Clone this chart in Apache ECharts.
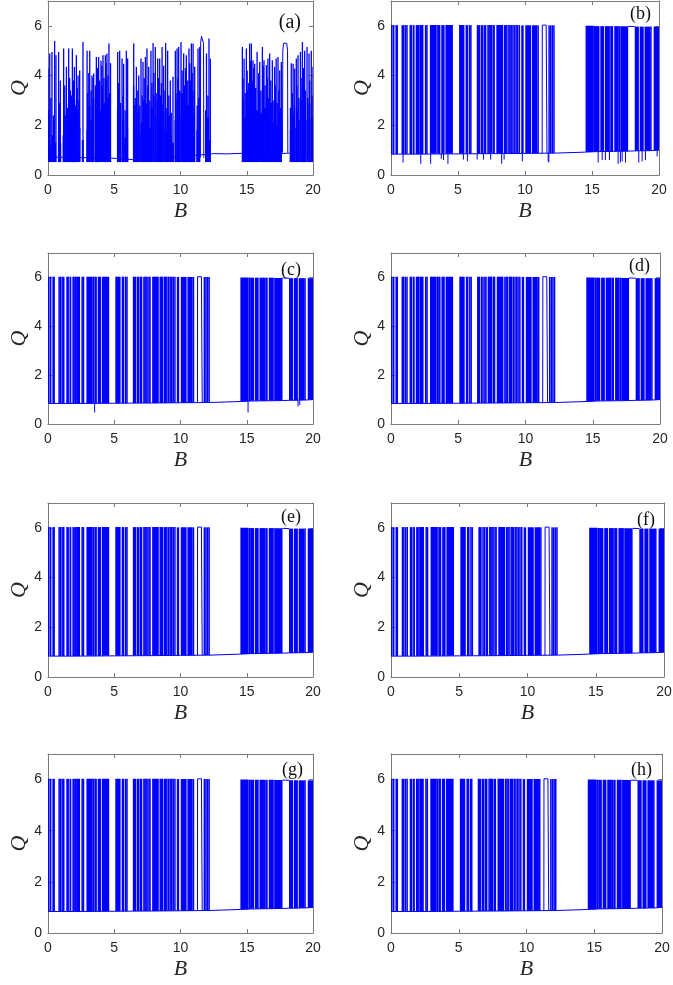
<!DOCTYPE html>
<html><head><meta charset="utf-8">
<script src="https://cdn.jsdelivr.net/npm/echarts@6/dist/echarts.min.js"></script>
<style>html,body{margin:0;padding:0;background:#fff}#c{width:673px;height:985px}</style>
</head><body><div id="c"></div>
<script>
// ---------- tick labels ----------
const xTickValues = [0, 5, 10, 15, 20];
const yTickValues = [0, 2, 4, 6];
const panelLabels = ['(a)', '(b)', '(c)', '(d)', '(e)', '(f)', '(g)', '(h)'];

// ---------- panel (a) ----------
const floorA = 0.52;
// individual excursions [B, peak Q]
const spikesA = [
  [0.00,4.28],[0.13,4.89],[0.30,4.95],[0.50,5.39],[0.60,4.82],[0.80,4.95],[0.93,3.80],[1.18,5.09],[1.39,4.35],
  [1.56,5.09],[1.69,3.40],[1.84,5.09],[1.99,4.35],[2.14,4.82],[2.27,4.00],[2.39,4.20],[2.64,5.35],[2.95,5.00],
  [3.15,5.00],[3.32,4.00],[3.45,4.08],[3.65,4.75],[3.82,4.75],[4.00,4.60],[4.15,4.82],[4.33,4.82],[4.45,4.89],
  [4.60,5.29],[4.72,4.50],[5.26,4.95],[5.41,5.00],[5.59,4.69],[5.71,4.48],[5.91,5.00],[6.01,4.69],[6.47,5.29],
  [6.67,4.35],[6.85,4.00],[7.02,4.69],[7.17,4.55],[7.35,4.75],[7.47,5.09],[7.60,4.35],[7.77,5.00],[7.93,5.31],
  [8.10,5.15],[8.28,4.69],[8.43,4.69],[8.61,5.15],[8.73,4.40],[8.88,5.31],[9.03,5.00],[9.23,3.80],[9.43,3.95],
  [9.61,5.00],[9.74,5.09],[9.86,5.15],[10.04,5.35],[10.24,4.89],[10.44,4.82],[10.64,5.09],[10.82,5.29],
  [10.95,5.29],[11.07,4.35],[11.32,5.09],[11.45,5.15],[11.96,4.89],[12.15,5.49],[12.25,4.69],
  [14.67,5.15],[14.80,4.69],[14.97,5.09],[15.22,5.29],[15.35,5.29],[15.47,4.62],[15.60,4.48],[15.78,4.95],
  [15.98,4.55],[16.18,5.15],[16.30,4.62],[16.48,4.42],[16.60,4.69],[16.73,4.89],[16.93,4.62],[17.10,4.35],
  [17.22,4.69],[17.36,4.75],[17.49,4.20],[17.61,4.55],[18.36,4.50],[18.50,4.48],[18.62,4.28],[18.74,4.69],
  [18.87,4.82],[19.05,4.95],[19.20,5.35],[19.37,5.00],[19.55,5.15],[19.70,4.89],[19.87,5.00],[20.00,4.35]
];
// mid-height excursions [B, peak Q]
const midSpikesA = [
  [0.07,2.6],[0.22,3.1],[0.42,2.4],[0.88,2.9],[1.27,3.6],[1.46,2.7],[1.63,3.9],[1.78,3.2],[1.92,3.8],[2.07,2.8],
  [2.20,3.5],[2.34,3.0],[2.99,3.3],[3.08,4.1],[3.25,3.4],[3.40,3.9],[3.58,3.6],[3.74,4.3],[3.90,3.8],[4.07,4.4],
  [4.22,3.9],[4.38,4.5],[4.53,4.0],[4.66,3.3],[5.31,3.7],[5.48,2.9],[5.66,3.2],[5.82,2.6],[6.46,3.6],[6.58,3.1],
  [6.78,3.4],[6.93,2.8],[7.10,3.2],[7.26,3.9],[7.41,2.9],[7.53,3.6],[7.69,3.0],[7.84,3.7],[7.99,4.1],[8.16,3.3],
  [8.33,3.9],[8.48,3.2],[8.56,3.7],[8.69,2.9],[8.83,3.4],[8.97,2.7],[9.12,3.2],[9.30,2.5],[9.66,3.3],[9.80,3.9],
  [9.93,3.4],[10.12,4.2],[10.30,3.6],[10.38,4.3],[10.55,3.8],[10.70,4.5],[10.88,4.1],[11.02,3.4],[11.26,2.8],
  [11.38,3.1],[11.90,2.6],[12.07,3.2],[14.72,3.9],[14.88,3.3],[15.03,4.2],[15.15,3.7],[15.30,4.6],[15.42,3.8],
  [15.53,4.3],[15.68,3.5],[15.90,4.1],[16.07,3.4],[16.24,4.4],[16.38,3.6],[16.54,3.9],[16.66,3.1],[16.82,3.8],
  [16.99,3.0],[17.15,3.6],[17.29,2.9],[17.42,3.4],[17.56,2.7],[18.30,2.7],[18.44,3.3],[18.58,2.8],[18.79,3.6],
  [18.93,3.1],[19.10,3.9],[19.27,4.3],[19.42,3.4],[19.60,3.1],[19.75,3.8],[19.93,3.2]
];
// densely filled stretches [B start, B end, top of the solid fill]
const bandsA = [
  [0.00,0.10,1.9],[0.10,0.25,1.2],[0.25,0.40,1.6],[0.40,0.62,1.3],[0.75,0.85,1.8],[0.85,1.00,1.3],
  [1.10,1.20,1.6],[1.20,1.35,2.4],[1.35,1.50,1.5],[1.50,1.60,2.9],[1.60,1.70,1.8],[1.75,1.90,2.2],
  [1.90,2.05,3.0],[2.05,2.20,1.7],[2.20,2.30,2.6],[2.30,2.45,1.9],[2.55,2.70,1.4],[2.90,3.05,1.8],
  [3.05,3.20,2.8],[3.20,3.35,2.2],[3.35,3.50,3.1],[3.55,3.70,2.4],[3.70,3.85,3.3],[3.85,4.00,2.6],
  [4.00,4.15,3.6],[4.15,4.30,2.9],[4.30,4.45,3.8],[4.45,4.60,3.1],[4.60,4.70,2.2],[5.20,5.35,2.6],
  [5.35,5.50,1.8],[5.60,5.75,2.2],[5.75,5.90,1.5],[5.90,6.05,1.9],[6.45,6.60,2.8],[6.60,6.75,1.9],
  [6.75,6.90,2.5],[6.90,7.00,1.7],[7.00,7.15,2.1],[7.15,7.30,3.0],[7.30,7.45,1.8],[7.45,7.60,2.6],
  [7.60,7.75,1.9],[7.75,7.90,2.7],[7.90,8.05,3.2],[8.05,8.20,2.3],[8.20,8.35,3.0],[8.35,8.50,2.1],
  [8.50,8.65,2.8],[8.65,8.80,1.9],[8.80,8.90,2.5],[8.90,9.05,1.8],[9.05,9.20,2.4],[9.20,9.35,1.6],
  [9.35,9.50,1.3],[9.55,9.70,2.2],[9.70,9.85,3.0],[9.85,10.00,2.4],[10.00,10.20,3.3],[10.20,10.35,2.6],
  [10.35,10.50,3.5],[10.50,10.65,2.8],[10.65,10.80,3.8],[10.80,10.95,3.2],[10.95,11.10,2.4],
  [11.20,11.30,1.8],[11.30,11.45,2.2],[11.85,12.00,1.6],[12.00,12.15,2.3],[12.15,12.25,1.4],
  [14.65,14.80,3.0],[14.80,14.95,2.3],[14.95,15.10,3.4],[15.10,15.25,2.8],[15.25,15.40,3.9],[15.40,15.55,2.9],
  [15.55,15.70,3.5],[15.70,15.85,2.6],[15.85,16.00,3.3],[16.00,16.15,2.5],[16.15,16.30,3.6],[16.30,16.45,2.7],
  [16.45,16.60,3.0],[16.60,16.75,2.2],[16.75,16.90,2.9],[16.90,17.05,2.1],[17.05,17.20,2.7],[17.20,17.35,2.0],
  [17.35,17.50,2.5],[17.50,17.65,1.8],[18.25,18.40,1.8],[18.40,18.55,2.4],[18.55,18.70,1.9],[18.70,18.85,2.7],
  [18.85,19.00,2.2],[19.00,19.15,3.0],[19.15,19.30,3.4],[19.30,19.45,2.5],[19.50,19.65,2.2],[19.65,19.80,2.9],
  [19.80,20.00,2.3]
];
const baseA = [[0,0.72],[2.5,0.70],[4.8,0.68],[5.2,0.66],[6.4,0.62],[8,0.68],[10,0.74],[12.2,0.84],[12.5,0.86],
  [13.5,0.85],[14.6,0.87],[16,0.82],[18.2,0.88],[19.5,0.88],[20,0.88]];
const archA1 = [[11.50,0.70],[11.52,5.30],[11.58,5.58],[11.63,5.62],[11.69,5.58],[11.74,5.30],[11.76,0.70]];
const archA2 = [[17.70,0.90],[17.72,5.00],[17.78,5.30],[17.90,5.37],[18.02,5.30],[18.08,5.00],[18.10,0.90]];

// ---------- panels (b)-(h): same switching windows ----------
// windows of fast switching between the low and high branch [B start, B end, low Q, high Q]
const gatesBH = [
  [0.00,0.12,0.84,6.03],[0.33,0.52,0.84,6.03],[1.38,1.58,0.84,6.03],[1.62,1.76,0.84,6.03],[1.84,2.02,0.84,6.03],
  [2.12,2.42,0.84,6.03],[2.90,3.38,0.85,6.03],[3.75,4.00,0.85,6.03],[4.06,4.62,0.85,6.03],[5.08,5.48,0.85,6.03],
  [6.40,6.64,0.86,6.03],[7.86,8.36,0.86,6.03],[9.72,9.90,0.87,6.02],[10.02,10.46,0.87,6.02],[10.52,10.92,0.87,6.02],
  [14.52,15.14,0.93,6.00],[15.30,15.56,0.95,5.99],[15.62,15.90,0.95,5.99],[15.96,16.30,0.95,5.99],
  [16.40,16.58,0.95,5.99],[16.66,17.00,0.96,5.99],[17.12,17.70,0.96,5.98],[18.19,18.50,0.97,5.97],
  [18.56,18.86,0.97,5.97],[18.92,19.36,0.98,5.97],[19.60,20.00,0.99,5.97]
];
// isolated jumps [B, low Q, high Q]
const jumpsBH = [
  [0.20,0.84,6.03],[0.84,0.84,6.03],[0.94,0.84,6.03],[1.07,0.84,6.03],[1.19,0.84,6.03],[2.06,0.84,6.03],
  [2.58,0.84,6.03],[2.68,0.84,6.03],[3.44,0.85,6.03],[3.56,0.85,6.03],[3.63,0.85,6.03],[5.62,0.85,6.03],
  [5.70,0.85,6.03],[5.86,0.85,6.03],[5.96,0.85,6.03],[6.74,0.86,6.03],[6.84,0.86,6.03],[6.98,0.86,6.03],
  [7.06,0.86,6.03],[7.24,0.86,6.03],[7.32,0.86,6.03],[7.40,0.86,6.03],[7.48,0.86,6.03],[7.62,0.86,6.03],
  [7.70,0.86,6.03],[8.47,0.86,6.03],[8.56,0.86,6.03],[8.65,0.86,6.03],[8.80,0.86,6.03],[8.88,0.86,6.03],
  [8.97,0.86,6.03],[9.10,0.87,6.03],[9.22,0.87,6.03],[9.34,0.87,6.03],[9.45,0.87,6.03],[9.58,0.87,6.03],
  [10.98,0.87,6.02],[11.80,0.88,6.02],[11.92,0.88,6.02],[12.04,0.88,6.02],[12.16,0.88,6.02],
  [15.20,0.94,5.99],[15.25,0.94,5.99],[16.34,0.95,5.99],[17.06,0.96,5.99],[19.40,0.98,5.97]
];
const loopBH = [[11.28,0.87],[11.29,6.03],[11.58,6.03],[11.64,0.88]];
const topArcBH = [[17.70,5.98],[18.19,5.97]];
const baseBH = [[0,0.84],[2,0.84],[5,0.85],[8,0.86],[10,0.87],[12.2,0.88],[14.5,0.92],[15.3,0.94],
  [17.7,0.96],[18.2,0.97],[19.4,0.98],[20,1.00]];
// downward dips [B, low Q, high Q]
const dipsB = [
  [0.90,0.50,0.84],[2.22,0.45,0.84],[2.96,0.45,0.85],[3.75,0.65,0.85],[3.92,0.60,0.85],[4.25,0.45,0.85],
  [5.40,0.62,0.85],[5.70,0.55,0.85],[6.43,0.62,0.86],[6.90,0.62,0.86],[7.44,0.62,0.86],[8.26,0.45,0.86],
  [8.44,0.62,0.86],[9.80,0.55,0.87],[11.73,0.55,0.88],[11.78,0.50,0.88],[15.46,0.50,0.94],[15.76,0.60,0.95],
  [16.00,0.60,0.95],[16.30,0.60,0.95],[16.95,0.45,0.96],[17.12,0.50,0.96],[17.25,0.55,0.96],[17.50,0.50,0.96],
  [18.49,0.50,0.97],[18.74,0.55,0.97],[18.99,0.60,0.98],[19.86,0.75,1.00]
];
const dipsC = [[3.52,0.47,0.85],[15.10,0.47,0.93],[18.87,0.72,0.97],[19.00,0.78,0.97]];

// ---------- layout ----------
const BLUE = '#0000ff';
const GRAY = '#7a7a7a';
const grids = [
  {left:48, top:1,   width:265, height:174},
  {left:391,top:1,   width:268, height:174},
  {left:48, top:253, width:265, height:171},
  {left:391,top:253, width:269, height:171},
  {left:48, top:503, width:265, height:174},
  {left:391,top:503, width:273, height:174},
  {left:48, top:754, width:265, height:179},
  {left:391,top:754, width:271, height:179}
];
const labelInset = [[12,12,20],[8,4,18],[12,8,18],[10,4,18],[12,5,18],[9,8,18],[10,7,18],[10,7,18]];

function renderBand(params, api) {
  const p1 = api.coord([api.value(0), api.value(3)]);
  const p2 = api.coord([api.value(1), api.value(2)]);
  let x = p1[0], w = p2[0] - p1[0];
  if (w < 1) { x = (p1[0] + p2[0]) / 2 - 0.5; w = 1; }
  return {type:'rect', shape:{x:x, y:p1[1], width:w, height:p2[1]-p1[1]}, style:{fill:BLUE}};
}
function makeJumpRenderer(width) {
  return function (params, api) {
    const p1 = api.coord([api.value(0), api.value(1)]);
    const p2 = api.coord([api.value(0), api.value(2)]);
    return {type:'line', shape:{x1:p1[0], y1:p1[1], x2:p2[0], y2:p2[1]}, style:{stroke:BLUE, lineWidth:width}};
  };
}

const xAxes = [], yAxes = [], series = [], graphics = [];
const tickFont = {fontFamily:'Liberation Sans, Arial', fontSize:14, color:'#262626'};
const nameFont = {fontFamily:'Liberation Serif, Times New Roman', fontStyle:'italic', fontSize:22, color:'#262626'};
const tickStyle = (vals) => ({show:true, inside:true, length:4, lineStyle:{color:GRAY}, customValues:vals});

grids.forEach((g, i) => {
  const common = {type:'value', gridIndex:i, splitLine:{show:false},
    axisLine:{show:true, onZero:false, lineStyle:{color:GRAY, width:1}}};
  xAxes.push(Object.assign({}, common, {position:'bottom', min:0, max:20, interval:5,
    axisTick:tickStyle(xTickValues),
    axisLabel:Object.assign({margin:8, customValues:xTickValues}, tickFont),
    name:'B', nameLocation:'middle', nameGap:25, nameTextStyle:nameFont}));
  xAxes.push(Object.assign({}, common, {position:'top', min:0, max:20, interval:5,
    axisTick:tickStyle(xTickValues), axisLabel:{show:false}}));
  yAxes.push(Object.assign({}, common, {position:'left', min:0, max:7, interval:1,
    axisTick:tickStyle(yTickValues),
    axisLabel:Object.assign({margin:6, customValues:yTickValues}, tickFont),
    name:'Q', nameLocation:'middle', nameGap:18, nameTextStyle:nameFont}));
  yAxes.push(Object.assign({}, common, {position:'right', min:0, max:7, interval:1,
    axisTick:tickStyle(yTickValues), axisLabel:{show:false}}));
  const xi = 2*i, yi = 2*i;
  const lineS = (data) => ({type:'line', xAxisIndex:xi, yAxisIndex:yi, data:data, showSymbol:false,
    symbol:'none', lineStyle:{color:BLUE, width:1}, animation:false, silent:true, z:3});
  const bandS = (data) => ({type:'custom', xAxisIndex:xi, yAxisIndex:yi, renderItem:renderBand,
    data:data, encode:{x:[0,1], y:[2,3]}, animation:false, silent:true, clip:true, z:2});
  const jumpS = (data, w) => ({type:'custom', xAxisIndex:xi, yAxisIndex:yi, renderItem:makeJumpRenderer(w),
    data:data, encode:{x:0, y:[1,2]}, animation:false, silent:true, clip:true, z:2});
  if (i === 0) {
    series.push(lineS(baseA));
    series.push(bandS(bandsA.map(b => [b[0], b[1], floorA, b[2]])));
    series.push(jumpS(midSpikesA.map(s => [s[0], floorA, s[1]]), 1.4));
    series.push(jumpS(spikesA.map(s => [s[0], floorA, s[1]]), 1.3));
    series.push(lineS(archA1));
    series.push(lineS(archA2));
  } else {
    series.push(lineS(baseBH));
    series.push(bandS(gatesBH));
    series.push(jumpS(jumpsBH, 1.5));
    series.push(lineS(loopBH));
    series.push(lineS(topArcBH));
    if (i === 1) series.push(jumpS(dipsB, 1));
    if (i === 2) series.push(jumpS(dipsC, 1));
  }
  const li = labelInset[i];
  graphics.push({type:'text', x:g.left + g.width - li[0], y:g.top + li[1],
    style:{text:panelLabels[i], fill:'#111', font:li[2] + 'px "Liberation Serif", "Times New Roman", serif',
      textAlign:'right', textVerticalAlign:'top'}});
});

const chart = echarts.init(document.getElementById('c'), null, {renderer:'canvas'});
chart.setOption({
  animation:false,
  backgroundColor:'#ffffff',
  grid:grids.map(g => Object.assign({show:false, outerBoundsMode:'none', containLabel:false}, g)),
  xAxis:xAxes, yAxis:yAxes, series:series, graphic:graphics
});
</script></body></html>
